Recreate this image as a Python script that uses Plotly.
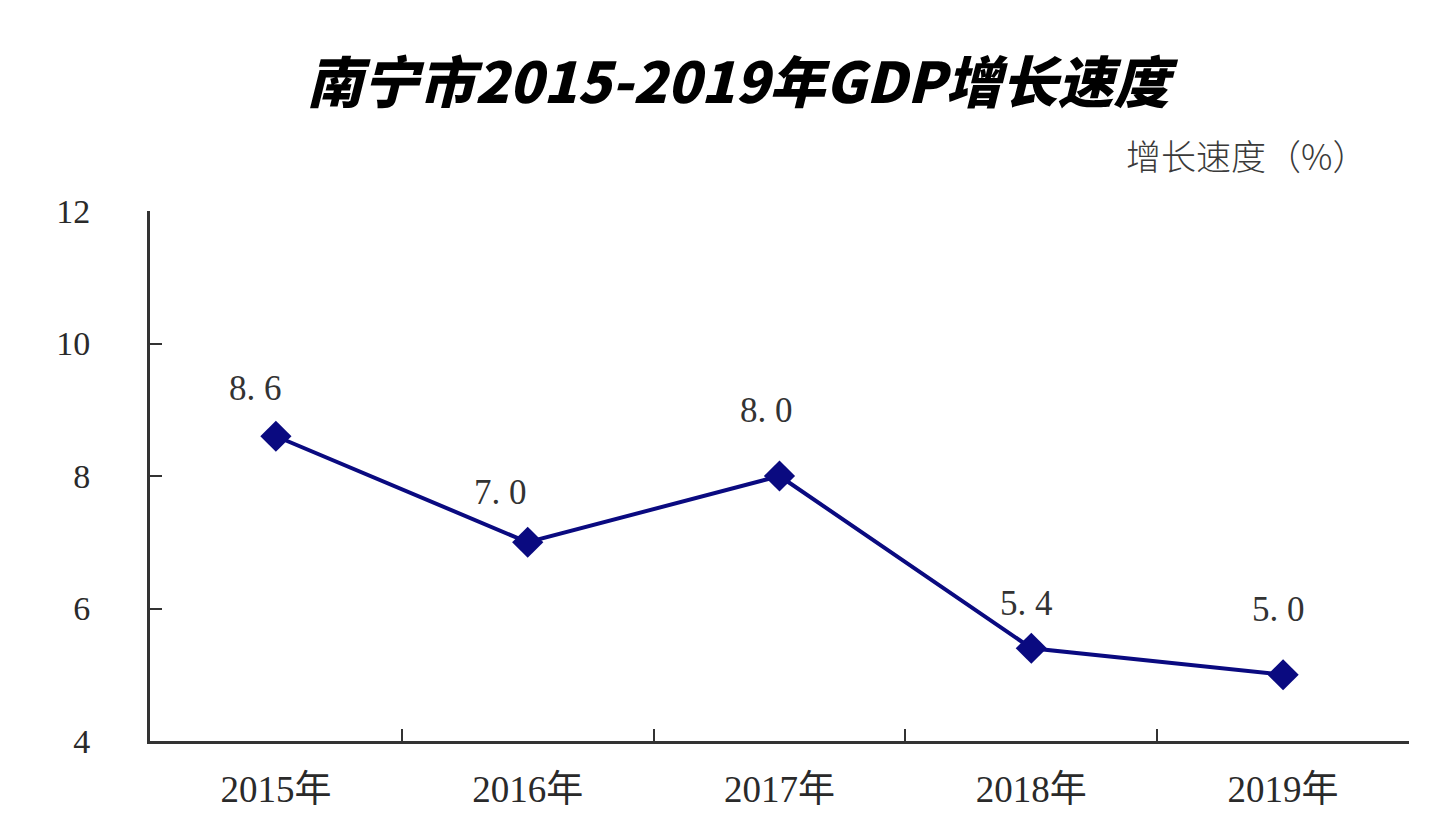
import plotly.graph_objects as go

years = ["2015年", "2016年", "2017年", "2018年", "2019年"]
growth = [8.6, 7.0, 8.0, 5.4, 5.0]
label_text = ["8. 6", "7. 0", "8. 0", "5. 4", "5. 0"]
label_dy = [48, 50, 66, 45, 65]
label_dx = [-20, -27, -13, -5, -5]
y_ticks = [4, 6, 8, 10, 12]

fig = go.Figure()
fig.add_trace(go.Scatter(
    x=years, y=growth, mode="lines+markers",
    line=dict(color="#0a0a80", width=4),
    marker=dict(symbol="diamond", size=24, color="#0a0a80"),
    hoverinfo="x+y", showlegend=False,
))

for x, y, t, dy, dx in zip(years, growth, label_text, label_dy, label_dx):
    fig.add_annotation(x=x, y=y, text=t, showarrow=False, yshift=dy, xshift=dx,
                       font=dict(family="Liberation Serif, Noto Sans CJK SC", size=35, color="#333333"))

fig.add_annotation(xref="paper", yref="paper", x=1.0, y=1.0, xanchor="right", yanchor="bottom",
                   xshift=-40, yshift=29, text="增长速度（%）", showarrow=False,
                   font=dict(family="Noto Sans CJK SC", size=35, color="#3a3a3a", weight=300))

fig.update_layout(
    width=1440, height=838,
    margin=dict(l=142, r=39, t=203, b=105),
    paper_bgcolor="white", plot_bgcolor="white",
    title=dict(text="南宁市2015-2019年GDP增长速度", x=0.507, xanchor="center", y=0.91, yanchor="middle",
               font=dict(family="Noto Sans CJK SC", size=56, color="black", weight=900, style="italic")),
    xaxis=dict(type="category", range=[-0.5, 4.5], tickson="boundaries",
               ticks="inside", ticklen=12, tickwidth=2, tickcolor="#333333",
               showline=True, linecolor="#333333", linewidth=3, showgrid=False, zeroline=False,
               tickfont=dict(family="Liberation Serif, Noto Sans CJK SC", size=37, color="#2a2a2a"),
               ticklabelstandoff=14),
    yaxis=dict(range=[4, 12], tickvals=y_ticks, ticks="inside", ticklen=12, tickwidth=2,
               tickcolor="#333333", showline=True, linecolor="#333333", linewidth=3,
               showgrid=False, zeroline=False,
               tickfont=dict(family="Liberation Serif", size=34, color="#2a2a2a"),
               ticklabelstandoff=50),
)

fig.write_html("out.html")
